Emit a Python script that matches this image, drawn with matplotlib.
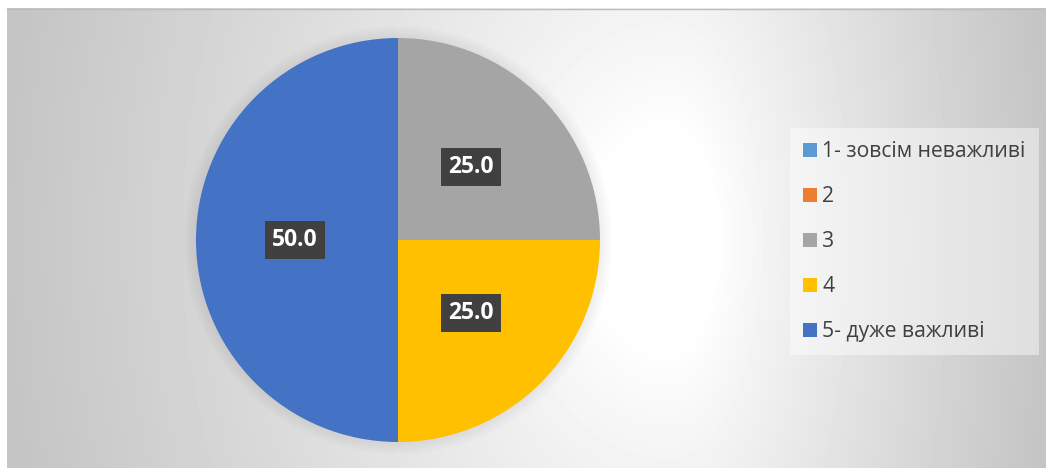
import matplotlib
matplotlib.use('Agg')
import matplotlib.pyplot as plt
import numpy as np
from matplotlib.patches import Circle

# Data
categories = ['1- зовсім неважливі', '2', '3', '4', '5- дуже важливі']
values = [0, 0, 25.0, 25.0, 50.0]
colors = ['#5B9BD5', '#ED7D31', '#A5A5A5', '#FFC000', '#4472C4']

W, H = 1046, 468
fig = plt.figure(figsize=(W / 100, H / 100), dpi=100)
fig.patch.set_facecolor('white')

# Background: soft radial gradient, white near the right-centre, grey at the edges
bg = fig.add_axes([7 / W, 0, 1 - 7 / W, 1 - 8 / H])
bg.set_axis_off()
xs = np.arange(7, W)
ys = np.arange(8, H)
X, Y = np.meshgrid(xs, ys)
cx, cy = 670, 240
rx = np.where(X < cx, 670.0, 380.0)
d = np.sqrt(((X - cx) / rx) ** 2 + ((Y - cy) / 900.0) ** 2)
v = 1 - 0.23 * np.clip((d - 0.12) / 0.88, 0, 1) ** 0.85
bg.imshow(v, cmap='gray', vmin=0, vmax=1, aspect='auto',
          extent=[0, 1, 0, 1], interpolation='bilinear')
bg.set_xlim(0, 1)
bg.set_ylim(0, 1)
fig.add_artist(plt.Line2D([7 / W, 1], [1 - 8.5 / H, 1 - 8.5 / H],
                          color='#bdbdbd', lw=1))

# Pie
ax = fig.add_axes([196 / W, 26 / H, 404 / W, 404 / H])
ax.set_facecolor('none')
for r in np.linspace(1.0, 1.06, 6):
    ax.add_patch(Circle((0, 0), r, fc='black', ec='none', alpha=0.01,
                        zorder=0, clip_on=False))

wedges, texts, autotexts = ax.pie(
    values, colors=colors, startangle=90, counterclock=False, radius=1,
    autopct=lambda p: f'{p:.1f}' if p > 0 else '', pctdistance=0.51,
    wedgeprops=dict(linewidth=0, zorder=2),
    textprops=dict(color='white', fontsize=16.5, fontweight='bold',
                   family='Open Sans'))
for t in autotexts:
    if t.get_text():
        t.set_bbox(dict(boxstyle='square,pad=0.32', fc='#404040', ec='none'))
        t.set_zorder(5)
ax.set_xlim(-1, 1)
ax.set_ylim(-1, 1)
ax.set_aspect('equal')

# Legend
leg = fig.legend(wedges, categories, loc='upper left',
                 bbox_to_anchor=(790 / W, 1 - 128 / H),
                 frameon=True, fancybox=False, framealpha=0.45,
                 facecolor='white', edgecolor='none',
                 prop=dict(family='Open Sans', size=15.2),
                 labelcolor='#404040', handlelength=0.65, handleheight=0.65,
                 handletextpad=0.25, labelspacing=1.14, borderpad=0.62,
                 borderaxespad=0)
leg.get_frame().set_linewidth(0)

fig.savefig('out.png', dpi=100)
